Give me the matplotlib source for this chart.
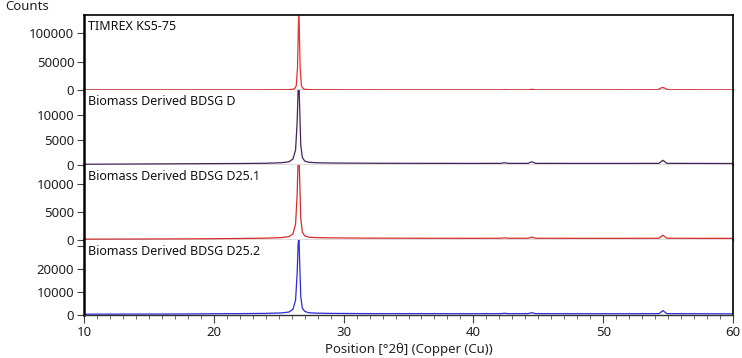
#!/usr/bin/env python3

import matplotlib.pyplot as plt
from matplotlib.ticker import MultipleLocator, FixedLocator

plt.rcParams['font.family'] = ['Noto Sans', 'DejaVu Sans']

# sample names and line colours
names = ["TIMREX KS5-75", "Biomass Derived BDSG D",
         "Biomass Derived BDSG D25.1", "Biomass Derived BDSG D25.2"]
colors = ["#e8302e", "#452358", "#d92a2a", "#2a2ad8"]

# y ticks and limits for each panel
yticks = [[0, 50000, 100000], [0, 5000, 10000], [0, 5000, 10000], [0, 10000, 20000, 30000]]
ytick_labels = [["0", "50000", "100000"], ["0", "5000", "10000"],
                ["0", "5000", "10000"], ["0", "10000", "20000", ""]]
ylims = [132000, 15000, 13300, 32600]

# points (2theta, counts)
ks75_x = [10, 15, 20, 24, 25.5, 26.0, 26.2, 26.35, 26.45, 26.55, 26.65, 26.75, 26.9,
          27.1, 27.6, 30, 35, 42.2, 42.4, 42.6, 44.2, 44.5, 44.8, 50, 54.2, 54.45, 54.6,
          54.75, 55.0, 60]
ks75_y = [250, 250, 300, 350, 500, 1000, 2000, 7000, 40000, 145000, 40000, 7000, 2000,
          1000, 500, 350, 300, 300, 700, 300, 300, 1300, 300, 300, 400, 3500, 4500,
          3000, 400, 300]

bdsgd_x = [10, 14, 18, 20, 22, 24, 25.2, 25.8, 26.1, 26.3, 26.42, 26.5, 26.56, 26.62,
           26.7, 26.82, 27.0, 27.3, 27.9, 29, 32, 36, 40, 42.1, 42.4, 42.7, 44.2, 44.5,
           44.8, 48, 52, 54.3, 54.6, 54.9, 57, 60]
bdsgd_y = [150, 200, 250, 280, 300, 350, 450, 650, 1200, 3000, 8500, 15500, 16500,
           11000, 4000, 1500, 800, 550, 450, 400, 350, 330, 320, 330, 450, 330, 330,
           650, 330, 320, 320, 330, 950, 330, 320, 300]

d251_x = [10, 14, 18, 20, 22, 24, 25.2, 25.8, 26.1, 26.3, 26.42, 26.5, 26.56, 26.62,
          26.7, 26.82, 27.0, 27.3, 27.9, 29, 32, 36, 40, 42.1, 42.4, 42.7, 44.2, 44.5,
          44.8, 48, 52, 54.3, 54.6, 54.9, 57, 60]
d251_y = [150, 170, 200, 230, 270, 330, 420, 600, 1100, 2800, 8000, 14500, 15000,
          10500, 3800, 1400, 750, 500, 420, 380, 330, 310, 300, 310, 380, 310, 310,
          500, 310, 300, 300, 310, 850, 310, 300, 290]

d252_x = [10, 14, 18, 20, 22, 24, 25.2, 25.8, 26.1, 26.3, 26.42, 26.5, 26.56, 26.62,
          26.7, 26.82, 27.0, 27.3, 27.9, 29, 32, 36, 40, 42.1, 42.4, 42.7, 44.2, 44.5,
          44.8, 48, 52, 54.3, 54.6, 54.9, 57, 60]
d252_y = [350, 400, 450, 550, 600, 700, 900, 1300, 2500, 6500, 18000, 31000, 34000,
          22000, 8000, 3000, 1600, 1000, 800, 700, 600, 580, 550, 580, 750, 580, 580,
          1000, 580, 550, 550, 580, 1900, 580, 550, 500]

xs = [ks75_x, bdsgd_x, d251_x, d252_x]
ys = [ks75_y, bdsgd_y, d251_y, d252_y]

fig = plt.figure(figsize=(7.42, 3.58), dpi=100)
left, right = 84 / 742, 733 / 742
top_px, panel_h = 15, 75
axes = []
for i in range(4):
    y0 = 1 - (top_px + panel_h * (i + 1)) / 358
    ax = fig.add_axes([left, y0, right - left, panel_h / 358])
    axes.append(ax)
    ax.plot(xs[i], ys[i], color=colors[i], lw=0.9)
    ax.set_xlim(10, 60)
    ax.set_ylim(0, ylims[i])
    ax.yaxis.set_major_locator(FixedLocator(yticks[i]))
    ax.set_yticklabels(ytick_labels[i])
    ax.tick_params(axis='y', direction='out', length=5, width=0.8, color='#444444',
                   labelsize=9.5, labelcolor='#222222', pad=2)
    ax.text(0.006, 0.93, names[i], transform=ax.transAxes, fontsize=9,
            va='top', ha='left', color='#111111')
    ax.spines['left'].set_linewidth(1.8)
    ax.spines['right'].set_linewidth(1.2)
    ax.spines['top'].set_visible(i == 0)
    ax.spines['top'].set_linewidth(1.2)
    ax.spines['bottom'].set_linewidth(1.0)
    ax.spines['bottom'].set_color('#555555' if i < 3 else '#333333')
    if i < 3:
        ax.tick_params(axis='x', bottom=False, labelbottom=False)

bottom = axes[-1]
bottom.xaxis.set_major_locator(MultipleLocator(10))
bottom.xaxis.set_minor_locator(MultipleLocator(1))
bottom.tick_params(axis='x', which='major', direction='out', length=6, width=0.8,
                   color='#444444', labelsize=9.5, labelcolor='#222222', pad=2)
bottom.tick_params(axis='x', which='minor', direction='out', length=3, width=0.6,
                   color='#555555')
bottom.set_xlabel("Position [°2θ] (Copper (Cu))", fontsize=9.5, color='#222222', labelpad=3)

fig.text(5 / 742, 1 - 6 / 358, "Counts", fontsize=9.5, va='center', ha='left', color='#222222')

fig.savefig("out.png", dpi=100)
